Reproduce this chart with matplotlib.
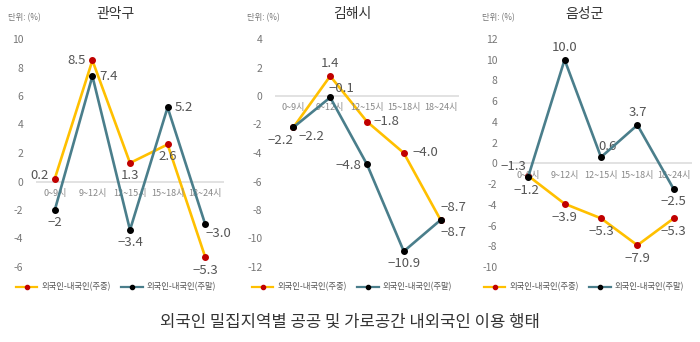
import matplotlib
matplotlib.use('Agg')
import matplotlib.pyplot as plt
from matplotlib.lines import Line2D

plt.rcParams['font.family'] = ['Noto Sans CJK KR', 'DejaVu Sans']
plt.rcParams['axes.unicode_minus'] = True

TIME_SLOTS = ['0~9시', '9~12시', '12~15시', '15~18시', '18~24시']
REGIONS = ['관악구', '김해시', '음성군']

GWANAK_WEEKDAY = [0.2, 8.5, 1.3, 2.6, -5.3]
GWANAK_WEEKEND = [-2.0, 7.4, -3.4, 5.2, -3.0]
GIMHAE_WEEKDAY = [-2.2, 1.4, -1.8, -4.0, -8.7]
GIMHAE_WEEKEND = [-2.2, -0.1, -4.8, -10.9, -8.7]
EUMSEONG_WEEKDAY = [-1.2, -3.9, -5.3, -7.9, -5.3]
EUMSEONG_WEEKEND = [-1.3, 10.0, 0.6, 3.7, -2.5]

GWANAK_LABELS_WEEKEND = ['−2', '7.4', '−3.4', '5.2', '−3.0']

Y_TICKS = [range(-6, 11, 2), range(-12, 5, 2), range(-10, 13, 2)]

WEEKDAY_LABEL = '외국인-내국인(주중)'
WEEKEND_LABEL = '외국인-내국인(주말)'
MAIN_TITLE = '외국인 밀집지역별 공공 및 가로공간 내외국인 이용 행태'
UNIT_TEXT = '단위: (%)'

YELLOW = '#FFC000'
TEAL = '#4A7E8B'
RED = '#C00000'
LABEL_COLOR = '#555555'
TICK_COLOR = '#777777'

# axes boxes in pixels (left, right), shared top/bottom
FIG_W, FIG_H = 700, 342
AX_X = [(36, 224), (275, 459), (510, 692)]
AX_TOP, AX_BOTTOM = 39, 267
PANEL_CENTERS = [116, 352, 584]

# value label placement: (ha, va, dx, dy) in points
PLACE_WEEKDAY = [
    [('right', 'center', -4, 2), ('right', 'center', -5, 0), ('center', 'top', 0, -4),
     ('center', 'top', 0, -4), ('center', 'top', 0, -5)],
    [('right', 'top', 0, -5), ('center', 'bottom', 0, 4), ('left', 'center', 5, 0),
     ('left', 'center', 6, 0), ('left', 'bottom', 0, 4)],
    [('center', 'top', -1, -6), ('center', 'top', 0, -5), ('center', 'top', 0, -5),
     ('center', 'top', 0, -5), ('center', 'top', 0, -5)],
]
PLACE_WEEKEND = [
    [('center', 'top', 0, -4), ('left', 'center', 5, 0), ('center', 'top', 0, -4),
     ('left', 'center', 5, 0), ('left', 'top', 0, -2)],
    [('left', 'top', 4, -2), ('left', 'bottom', -1, 2), ('right', 'center', -4, -1),
     ('center', 'top', 0, -4), ('left', 'top', 0, -4)],
    [('right', 'bottom', -1, 3), ('center', 'bottom', 0, 4), ('left', 'bottom', -2, 3),
     ('center', 'bottom', 0, 4), ('center', 'top', 0, -4)],
]


def fmt(v):
    s = f'{abs(v):.1f}'
    return ('−' + s) if v < 0 else s


def draw_panel(ax, weekday, weekend, yticks, place_wd, place_we, weekend_labels=None):
    x = list(range(len(TIME_SLOTS)))
    ax.axhline(0, color='#DDDDDD', lw=1.2, zorder=1)
    ax.plot(x, weekday, color=YELLOW, lw=1.9, marker='o', ms=4,
            mfc=RED, mec=RED, zorder=3, clip_on=False)
    ax.plot(x, weekend, color=TEAL, lw=1.9, marker='o', ms=4,
            mfc='black', mec='black', zorder=4, clip_on=False)

    for i, v in enumerate(weekday):
        ha, va, dx, dy = place_wd[i]
        ax.annotate(fmt(v), (i, v), xytext=(dx, dy), textcoords='offset points',
                    ha=ha, va=va, fontsize=9.5, color=LABEL_COLOR)
    for i, v in enumerate(weekend):
        ha, va, dx, dy = place_we[i]
        txt = weekend_labels[i] if weekend_labels else fmt(v)
        ax.annotate(txt, (i, v), xytext=(dx, dy), textcoords='offset points',
                    ha=ha, va=va, fontsize=9.5, color=LABEL_COLOR)

    for i, lab in enumerate(TIME_SLOTS):
        ax.annotate(lab, (i, 0), xytext=(0, -8.5), textcoords='offset points',
                    ha='center', va='center', fontsize=6.5, color='#888888')

    ax.set_xlim(-0.5, len(TIME_SLOTS) - 0.5)
    ax.set_ylim(min(yticks), max(yticks))
    ax.set_yticks(list(yticks))
    ax.set_yticklabels([str(t) for t in yticks], fontsize=7.5, color=TICK_COLOR)
    ax.tick_params(axis='y', length=0, pad=9)
    ax.set_xticks([])
    for s in ax.spines.values():
        s.set_visible(False)


fig = plt.figure(figsize=(FIG_W / 100, FIG_H / 100), dpi=100)

series = [(GWANAK_WEEKDAY, GWANAK_WEEKEND), (GIMHAE_WEEKDAY, GIMHAE_WEEKEND),
          (EUMSEONG_WEEKDAY, EUMSEONG_WEEKEND)]

for k, (wd, we) in enumerate(series):
    left, right = AX_X[k]
    ax = fig.add_axes([left / FIG_W, 1 - AX_BOTTOM / FIG_H,
                       (right - left) / FIG_W, (AX_BOTTOM - AX_TOP) / FIG_H])
    ax.patch.set_alpha(0)
    draw_panel(ax, wd, we, Y_TICKS[k], PLACE_WEEKDAY[k], PLACE_WEEKEND[k],
               GWANAK_LABELS_WEEKEND if k == 0 else None)

    cx = PANEL_CENTERS[k] / FIG_W
    fig.text(cx, 1 - 14 / FIG_H, REGIONS[k], ha='center', va='center',
             fontsize=10, color='#333333', fontweight='medium')
    fig.text((left - 28) / FIG_W, 1 - 18 / FIG_H, UNIT_TEXT, ha='left', va='center',
             fontsize=6, color='#777777')

    handles = [
        Line2D([], [], color=YELLOW, lw=1.6, marker='o', ms=3, mfc=RED, mec=RED),
        Line2D([], [], color=TEAL, lw=1.6, marker='o', ms=3, mfc='black', mec='black'),
    ]
    fig.legend(handles, [WEEKDAY_LABEL, WEEKEND_LABEL], loc='center',
               bbox_to_anchor=(cx, 1 - 287 / FIG_H), ncol=2, frameon=False,
               fontsize=6, labelcolor='#555555', handlelength=2.6,
               columnspacing=1.2, handletextpad=0.5)

fig.text(0.5, 1 - 322 / FIG_H, MAIN_TITLE, ha='center', va='center',
         fontsize=12, color='#333333', fontweight='medium')

fig.savefig('out.png', dpi=100)
plt.close(fig)
